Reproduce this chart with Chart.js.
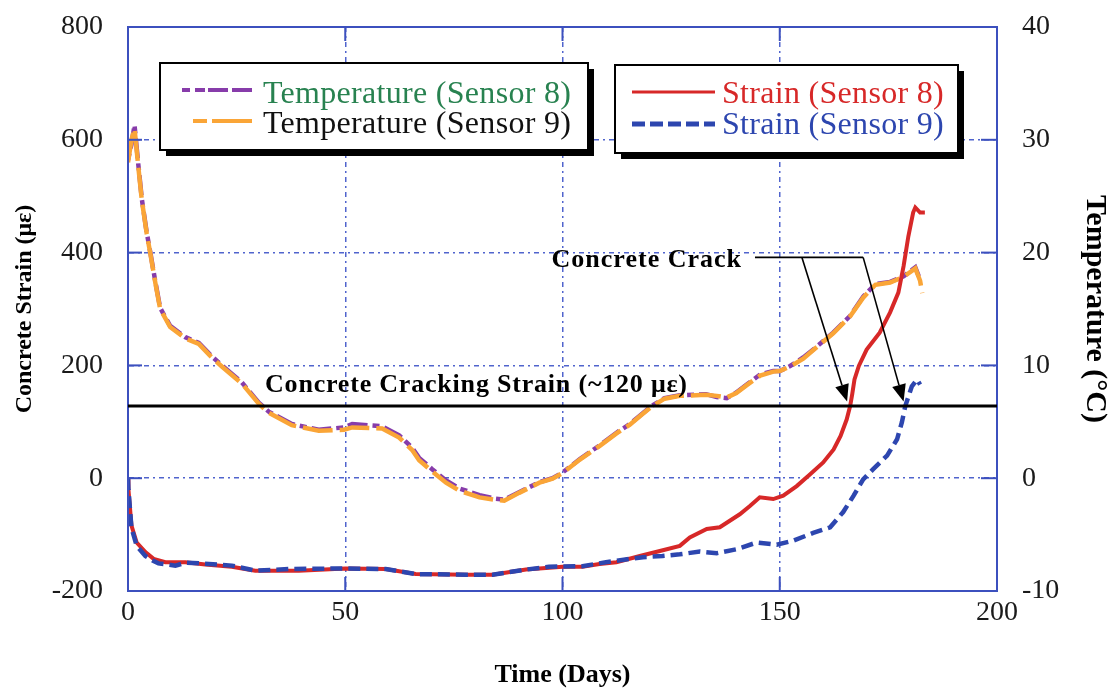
<!DOCTYPE html>
<html><head><meta charset="utf-8">
<script src="https://cdn.jsdelivr.net/npm/chart.js@4.4.0/dist/chart.umd.min.js"></script>
<style>html,body{margin:0;padding:0;background:#fff;} #wrap{width:1113px;height:692px;}</style>
</head><body><div id="wrap"><canvas id="c" width="1113" height="692"></canvas></div>
<script>
// ---------------- data ----------------
const tempDays8 = [0,0.8,1.5,2.4,3.2,4.3,5.1,6.3,7.4,9.7,13.2,16.3,19.3,21.6,26.2,30.1,32.4,37.7,43.9,49.7,51.6,58.5,62.4,65.4,67,70,73.2,76.2,80.9,84.3,86.6,90,94.7,97.7,100,104,108.5,112.5,115.5,118,120.5,123.5,127,133,135.5,137.8,140,142.4,145.5,148.5,150,152.4,155.4,158,162.3,166.2,169.2,172,175.4,178.5,181.2,182];
const temp8 = [28.2,29.6,31.3,27.7,24.7,21.8,20.1,17.4,15.1,13.5,12.5,12.0,10.8,10.0,8.5,6.7,5.9,4.8,4.3,4.5,4.8,4.6,3.8,2.7,1.8,0.8,-0.2,-0.9,-1.5,-1.8,-1.9,-1.25,-0.35,0.0,0.5,1.7,2.9,4.05,4.8,5.6,6.4,7.1,7.35,7.45,7.2,7.1,7.6,8.3,9.2,9.5,9.5,9.95,10.7,11.5,12.9,14.4,16.1,17.2,17.4,17.9,18.7,17.9];
const tempDays9 = [0,0.8,1.5,2.4,3.2,4.3,5.1,6.3,7.4,9.7,13.2,16.3,19.3,21.6,26.2,30.1,32.4,37.7,43.9,49.7,51.6,58.5,62.4,65.4,67,70,73.2,76.2,80.9,84.3,86.6,90,94.7,97.7,100,104,108.5,112.5,115.5,118,120.5,123.5,127,133,135.5,137.8,140,142.4,145.5,148.5,150,152.4,155.4,158,162.3,166.2,169.2,172,175.4,178.5,181.2,182.3,182.8];
const temp9 = [28.0,30.0,31.0,27.5,24.6,21.7,20.0,17.3,15.0,13.4,12.4,11.9,10.7,9.9,8.4,6.6,5.8,4.7,4.2,4.3,4.5,4.4,3.6,2.5,1.6,0.6,-0.4,-1.1,-1.7,-1.9,-2.0,-1.3,-0.4,-0.05,0.45,1.65,2.85,4.0,4.75,5.55,6.35,7.05,7.3,7.4,7.3,7.15,7.55,8.25,9.1,9.45,9.5,9.9,10.6,11.45,12.85,14.35,16.0,17.15,17.35,17.85,18.6,17.5,16.4];
const strainDays8 = [0,0.1,0.8,2,4,5.9,8.6,13.2,17.8,23.9,29.3,39.3,50,59.3,66.2,77.8,83.9,91.6,100,104.6,108.5,112.4,117.8,122.4,127,129.3,133.2,136.2,140.8,143.2,145.4,148.5,150.8,153.9,157,160,162.4,164,165.4,166.2,166.7,167.2,168.2,170,173,175.4,177.3,178.5,179.6,180.7,181.2,182.3,183.4];
const strain8 = [0,-20,-84,-114,-131,-143,-149,-149,-153,-157,-164,-164,-160,-161,-170,-171,-171,-162,-157,-157,-152,-149,-138,-129,-120,-105,-90,-87,-64,-49,-34,-37,-31,-14,7,28,51,75,104,128,150,175,199,228,258,294,329,376,429,471,480,471,471];
const strainDays9 = [0,0.1,0.8,2,4,5.9,7,10.9,13.2,16.3,23.9,29.3,37,50,59.3,66.2,77.8,83.9,91.6,96.9,104.6,110,118.5,123,127,131.6,135.5,140,144.7,149.3,153,157.7,161.6,164.6,167,169.2,171.5,174.7,177,178.1,178.9,180.4,181.6,182.3];
const strain9 = [0,-20,-88,-120,-138,-147,-151,-155,-150,-151,-155,-164,-161,-160,-161,-170,-171,-171,-162,-157,-156,-149,-140,-138,-135,-130,-133,-126,-114,-118,-111,-97,-87,-60,-31,-2,16,40,69,99,128,163,175,166];

const xTicks = [0,50,100,150,200];
const strainTicks = [-200,0,200,400,600,800];
const tempTicks = [-10,0,10,20,30,40];

const crackingStrain = 128;
const crackLeader = {startDay:144.3, endDay:169.2, strain:391.5};
const crackArrowFrom = [[155.1,391.5],[169.2,391.5]];
const crackArrowTo = [[165.5,136],[178.5,136]];

const seriesNames = ['Temperature (Sensor 8)','Temperature (Sensor 9)','Strain (Sensor 8)','Strain (Sensor 9)'];

// ---------------- styles ----------------
const FONT = '"Liberation Serif", "Times New Roman", serif';
const AXIS = 'rgb(60,80,190)';
const GRID = 'rgb(80,100,205)';
const C_PURPLE = 'rgb(135,60,170)';
const C_ORANGE = 'rgb(250,165,55)';
const C_RED = 'rgb(215,40,40)';
const C_BLUE = 'rgb(45,70,175)';
const C_GREEN = 'rgb(40,130,80)';

const pts = (xs, ys) => xs.map((v,i)=>({x:v,y:ys[i]}));

function edgeColor(min,max){
  return ctx => (ctx.tick && (ctx.tick.value===min || ctx.tick.value===max)) ? 'rgba(0,0,0,0)' : GRID;
}
function fitV(w){
  return s => { s.width = w; s.paddingTop = 0; s.paddingBottom = 0; };
}

const overlay = {
  id:'overlay',
  afterDraw(chart){
    const {ctx, chartArea:a, scales} = chart;
    const x = scales.x, y = scales.y, y2 = scales.y2;
    ctx.save();
    const line = (x1,y1,x2,y2_) => {ctx.beginPath();ctx.moveTo(x1,y1);ctx.lineTo(x2,y2_);ctx.stroke();};
    // inward tick marks
    ctx.setLineDash([]);
    ctx.strokeStyle = AXIS; ctx.lineWidth = 2;
    xTicks.forEach(v=>{ if(v<=x.min||v>=x.max) return; const px=x.getPixelForValue(v); line(px,a.bottom,px,a.bottom-14); line(px,a.top,px,a.top+14); });
    strainTicks.forEach(v=>{ if(v<=y.min||v>=y.max) return; const py=y.getPixelForValue(v); line(a.left,py,a.left+14,py); });
    tempTicks.forEach(v=>{ if(v<=y2.min||v>=y2.max) return; const py=y2.getPixelForValue(v); line(a.right,py,a.right-16,py); });
    // plot border
    ctx.lineWidth = 2;
    ctx.strokeRect(a.left,a.top,a.right-a.left,a.bottom-a.top);

    // cracking strain line
    const cy = y.getPixelForValue(crackingStrain);
    ctx.strokeStyle = '#000'; ctx.lineWidth = 3;
    line(a.left, cy, a.right, cy);
    ctx.fillStyle = '#000';
    ctx.font = 'bold 26px '+FONT;
    ctx.letterSpacing = '0.8px';
    ctx.textBaseline = 'alphabetic'; ctx.textAlign = 'left';
    ctx.fillText('Concrete Cracking Strain (~120 \u03bc\u03b5)', a.left+137, cy-14);

    // concrete crack arrows
    const ly = y.getPixelForValue(crackLeader.strain);
    ctx.lineWidth = 1.6;
    line(x.getPixelForValue(crackLeader.startDay), ly, x.getPixelForValue(crackLeader.endDay), ly);
    crackArrowFrom.forEach((f,i)=>{
      const t = crackArrowTo[i];
      const x1=x.getPixelForValue(f[0]), y1=y.getPixelForValue(f[1]);
      const x2=x.getPixelForValue(t[0]), y2p=y.getPixelForValue(t[1]);
      const ang = Math.atan2(y2p-y1, x2-x1);
      const L=17, W=7;
      const bx = x2 - L*Math.cos(ang), by = y2p - L*Math.sin(ang);
      line(x1,y1,bx,by);
      ctx.beginPath();
      ctx.moveTo(x2,y2p);
      ctx.lineTo(bx + W*Math.sin(ang), by - W*Math.cos(ang));
      ctx.lineTo(bx - W*Math.sin(ang), by + W*Math.cos(ang));
      ctx.closePath(); ctx.fill();
    });
    ctx.font = 'bold 26px '+FONT;
    ctx.letterSpacing = '1px';
    ctx.textAlign = 'right';
    ctx.fillText('Concrete Crack', x.getPixelForValue(crackLeader.startDay)-13, ly+10);

    // legends
    const box = (bx,by,bw,bh)=>{
      ctx.setLineDash([]);
      ctx.fillStyle='#000'; ctx.fillRect(bx+6,by+6,bw,bh);
      ctx.fillStyle='#fff'; ctx.fillRect(bx,by,bw,bh);
      ctx.strokeStyle='#000'; ctx.lineWidth=2; ctx.strokeRect(bx,by,bw,bh);
    };
    const sample = (x1,x2,yy,color,dash,w)=>{
      ctx.strokeStyle=color; ctx.lineWidth=w; ctx.setLineDash(dash); ctx.lineCap='butt';
      line(x1,yy,x2,yy); ctx.setLineDash([]);
    };
    ctx.textAlign='left'; ctx.textBaseline='alphabetic';
    ctx.font = '32px '+FONT;
    ctx.letterSpacing = '0.3px';
    box(160,63,428,87);
    sample(182,252,90,C_PURPLE,[8,5,10,3,20,4,20,0],4);
    sample(193,252,121,C_ORANGE,[14,5,40,0],4);
    ctx.fillStyle=C_GREEN; ctx.fillText(seriesNames[0],263,103);
    ctx.fillStyle='#111'; ctx.fillText(seriesNames[1],263,133);
    box(615,65,343,88);
    sample(632,715,92,C_RED,[],3);
    sample(632,715,124,C_BLUE,[13,5],5);
    ctx.fillStyle=C_RED; ctx.fillText(seriesNames[2],722,103);
    ctx.fillStyle=C_BLUE; ctx.fillText(seriesNames[3],722,134);
    ctx.restore();
  }
};

new Chart(document.getElementById('c'), {
  type:'scatter',
  data:{datasets:[
    {label:seriesNames[3], data:pts(strainDays9,strain9), yAxisID:'y', showLine:true, borderColor:C_BLUE, borderWidth:4.5, borderDash:[12,6], pointRadius:0, order:0},
    {label:seriesNames[2], data:pts(strainDays8,strain8), yAxisID:'y', showLine:true, borderColor:C_RED, borderWidth:4, pointRadius:0, order:1},
    {label:seriesNames[1], data:pts(tempDays9,temp9), yAxisID:'y2', showLine:true, borderColor:C_ORANGE, borderWidth:4.5, borderDash:[30,7], pointRadius:0, order:2},
    {label:seriesNames[0], data:pts(tempDays8,temp8), yAxisID:'y2', showLine:true, borderColor:C_PURPLE, borderWidth:4.5, borderDash:[7,5,20,5], pointRadius:0, order:3}
  ]},
  options:{
    responsive:false, animation:false,
    layout:{padding:{top:27,left:0,right:0,bottom:0}},
    plugins:{legend:{display:false}, tooltip:{enabled:false}},
    scales:{
      x:{type:'linear', min:0, max:200,
        afterBuildTicks:s=>{s.ticks = xTicks.map(v=>({value:v}));},
        afterFit:s=>{s.height=101; s.paddingLeft=0; s.paddingRight=0;},
        ticks:{font:{family:FONT,size:28}, color:'#1a1a1a', padding:5, maxRotation:0, autoSkip:false},
        grid:{color:edgeColor(0,200), lineWidth:1.5, drawTicks:false, borderDash:[5,4,2,4]},
        border:{display:true, color:AXIS, width:2, dash:[5,4,2,4]},
        title:{display:true, text:'Time (Days)', font:{family:FONT,size:26,weight:'bold'}, color:'#000', padding:{top:0,bottom:1}}
      },
      y:{type:'linear', position:'left', min:-200, max:800,
        afterBuildTicks:s=>{s.ticks = strainTicks.map(v=>({value:v}));},
        afterFit:fitV(128),
        ticks:{font:{family:FONT,size:28}, color:'#1a1a1a', padding:25},
        grid:{color:edgeColor(-200,800), lineWidth:1.5, drawTicks:false, borderDash:[5,4,2,4]},
        border:{display:true, color:AXIS, width:2, dash:[5,4,2,4]},
        title:{display:true, text:'Concrete Strain (\u03bc\u03b5)', font:{family:FONT,size:24,weight:'bold'}, color:'#000', padding:{top:10,bottom:0}}
      },
      y2:{type:'linear', position:'right', min:-10, max:40,
        afterBuildTicks:s=>{s.ticks = tempTicks.map(v=>({value:v}));},
        afterFit:fitV(116),
        ticks:{font:{family:FONT,size:28}, color:'#1a1a1a', padding:25},
        grid:{display:false, drawTicks:false},
        border:{display:true, color:AXIS, width:2},
        title:{display:true, text:'Temperature (\u00b0C)', font:{family:FONT,size:30,weight:'bold'}, color:'#000', padding:{top:0,bottom:0}}
      }
    }
  },
  plugins:[overlay]
});
</script>
</body></html>
